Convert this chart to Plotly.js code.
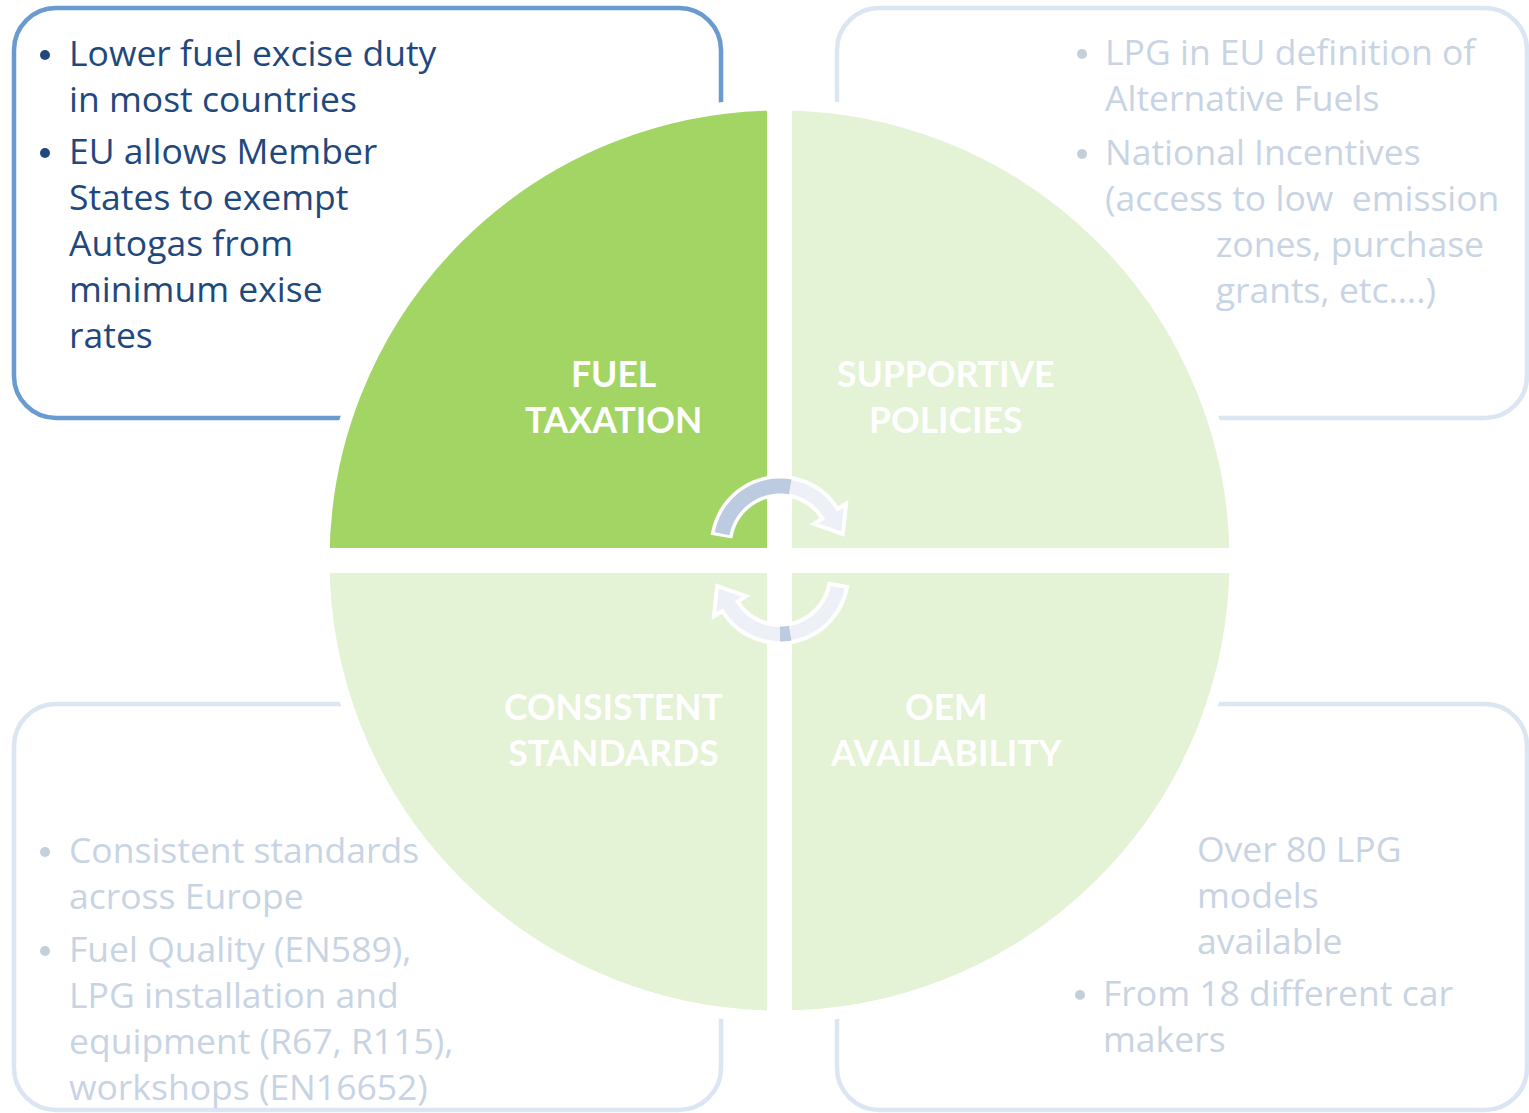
<!DOCTYPE html>
<html>
<head>
<meta charset="utf-8">
<script src="https://cdn.plot.ly/plotly-3.0.1.min.js"></script>
<style>html,body{margin:0;padding:0;background:#fff;}#chart{width:1529px;height:1113px;}</style>
</head>
<body>
<div id="chart"></div>
<script>
// ---------------- DATA ----------------
const quadrantNames = ['SUPPORTIVE<br>POLICIES', 'OEM<br>AVAILABILITY', 'CONSISTENT<br>STANDARDS', 'FUEL<br>TAXATION'];
const quadrantValues = [1, 1, 1, 1];

const NB = '\u00a0'.repeat(12);
const fuelTaxationPoints = [
  ['Lower fuel excise duty', 'in most countries'],
  ['EU allows Member', 'States to exempt', 'Autogas from', 'minimum exise', 'rates']
];
const supportivePoints = [
  ['LPG in EU definition of', 'Alternative Fuels'],
  ['National Incentives', '(access to low\u00a0 emission', NB + 'zones, purchase', NB + 'grants, etc\u2026.)']
];
const standardsPoints = [
  ['Consistent standards', 'across Europe'],
  ['Fuel Quality (EN589),', 'LPG installation and', 'equipment (R67, R115),', 'workshops (EN16652)']
];
const oemPoints = [
  ['Over 80 LPG', 'models', 'available'],
  ['From 18 different car', 'makers']
];

// ---------------- STYLE / LAYOUT ----------------
const W = 1529, H = 1113;
const FONT = '"Open Sans", Lato, sans-serif';
const LABEL_FONT = 'Lato, "Open Sans", sans-serif';
const TEXT_SIZE = 35.5, LINE = 1.3 * TEXT_SIZE;
const darkGreen = '#a2d563', lightGreen = '#e4f2d5';
const quadrantColors = [lightGreen, lightGreen, lightGreen, darkGreen];
const activeText = '#1f497d', fadedText = '#c8d4e3', fadedBullet = '#c4cfdc';

// per box: bullet x, text x per paragraph, first-line y per paragraph, bullet shown per paragraph
const boxes = [
  {points: fuelTaxationPoints, color: activeText, bulletColor: activeText, bx: 45, xs: [69, 69], ys: [55, 153], bullet: [true, true]},
  {points: supportivePoints, color: fadedText, bulletColor: fadedBullet, bx: 1082, xs: [1105, 1105], ys: [54, 154], bullet: [true, true]},
  {points: standardsPoints, color: fadedText, bulletColor: fadedBullet, bx: 45, xs: [69, 69], ys: [852, 951], bullet: [true, true]},
  {points: oemPoints, color: fadedText, bulletColor: fadedBullet, bx: 1080, xs: [1197, 1103], ys: [851, 995], bullet: [false, true]}
];

// centre of each two-line label
const labelPos = [[946, 396], [946, 729], [613, 729], [613, 396]];

const traces = [];
boxes.forEach(b => {
  const tx = [], ty = [], tt = [], bx = [], by = [];
  b.points.forEach((lines, i) => {
    tx.push(b.xs[i]);
    ty.push(b.ys[i] + (lines.length - 1) * LINE / 2 + 2);
    tt.push(lines.join('<br>'));
    if (b.bullet[i]) { bx.push(b.bx); by.push(b.ys[i]); }
  });
  traces.push({
    type: 'scatter', mode: 'text', x: tx, y: ty, text: tt,
    textposition: 'middle right', textfont: {family: FONT, size: TEXT_SIZE, color: b.color},
    hoverinfo: 'skip', cliponaxis: false, showlegend: false
  });
  traces.push({
    type: 'scatter', mode: 'markers', x: bx, y: by,
    marker: {size: 10, color: b.bulletColor, line: {width: 0}},
    hoverinfo: 'skip', showlegend: false
  });
});

// pie (quadrants)
const cx = 779.5, cy = 560.5, R = 450, pad = 12, gap = 25;
const Rd = R + pad / 2;
traces.push({
  type: 'pie', values: quadrantValues, labels: quadrantNames, sort: false,
  direction: 'clockwise', rotation: 0, textinfo: 'none', hoverinfo: 'skip',
  marker: {colors: quadrantColors, line: {color: '#ffffff', width: pad}},
  domain: {x: [(cx - Rd) / W, (cx + Rd) / W], y: [(H - cy - Rd) / H, (H - cy + Rd) / H]},
  showlegend: false
});

// shapes
function roundRect(x0, y0, x1, y1, r) {
  const k = 0.5523 * r;
  return `M${x0 + r},${y0} L${x1 - r},${y0} C${x1 - r + k},${y0} ${x1},${y0 + r - k} ${x1},${y0 + r} ` +
         `L${x1},${y1 - r} C${x1},${y1 - r + k} ${x1 - r + k},${y1} ${x1 - r},${y1} ` +
         `L${x0 + r},${y1} C${x0 + r - k},${y1} ${x0},${y1 - r + k} ${x0},${y1 - r} ` +
         `L${x0},${y0 + r} C${x0},${y0 + r - k} ${x0 + r - k},${y0} ${x0 + r},${y0} Z`;
}
const rad = d => d * Math.PI / 180;
const pt = (ax, ay, r, a) => [ax + r * Math.cos(rad(a)), ay - r * Math.sin(rad(a))];
function arcPts(ax, ay, r, a0, a1, n) {
  const out = [];
  for (let i = 0; i <= n; i++) out.push(pt(ax, ay, r, a0 + (a1 - a0) * i / n));
  return out;
}
function arrowPath(ax, ay, rIn, rOut, a0, a1, ext, len) {
  const outer = arcPts(ax, ay, rOut, a0, a1, 40);
  const inner = arcPts(ax, ay, rIn, a1, a0, 40);
  const rm = (rIn + rOut) / 2;
  const m = pt(ax, ay, rm, a1);
  const t = [Math.sin(rad(a1)), Math.cos(rad(a1))];
  const tip = [m[0] + t[0] * len, m[1] + t[1] * len];
  const hOut = pt(ax, ay, rOut + ext, a1), hIn = pt(ax, ay, rIn - ext, a1);
  const pts = outer.concat([hOut, tip, hIn]).concat(inner);
  return 'M' + pts.map(p => p[0].toFixed(1) + ',' + p[1].toFixed(1)).join(' L') + ' Z';
}
function bandPath(ax, ay, rIn, rOut, a0, a1) {
  const pts = arcPts(ax, ay, rOut, a0, a1, 20).concat(arcPts(ax, ay, rIn, a1, a0, 20));
  return 'M' + pts.map(p => p[0].toFixed(1) + ',' + p[1].toFixed(1)).join(' L') + ' Z';
}

const boxLine = 4.5;
const shapes = [
  {type: 'path', layer: 'below', path: roundRect(14, 8, 721, 418, 42), line: {color: '#6a9bd0', width: boxLine}, fillcolor: 'rgba(0,0,0,0)'},
  {type: 'path', layer: 'below', path: roundRect(837, 8, 1527, 418, 42), line: {color: '#dce6f2', width: boxLine}, fillcolor: 'rgba(0,0,0,0)'},
  {type: 'path', layer: 'below', path: roundRect(14, 704, 721, 1110, 42), line: {color: '#dce6f2', width: boxLine}, fillcolor: 'rgba(0,0,0,0)'},
  {type: 'path', layer: 'below', path: roundRect(837, 704, 1527, 1110, 42), line: {color: '#dce6f2', width: boxLine}, fillcolor: 'rgba(0,0,0,0)'},
  // white cross separating the quadrants
  {type: 'rect', layer: 'above', x0: cx - gap / 2, x1: cx + gap / 2, y0: cy - R - 2, y1: cy + R + 2, fillcolor: '#ffffff', line: {width: 0}},
  {type: 'rect', layer: 'above', x0: cx - R - 2, x1: cx + R + 2, y0: cy - gap / 2, y1: cy + gap / 2, fillcolor: '#ffffff', line: {width: 0}},
  // upper arrow
  {type: 'path', layer: 'above', path: arrowPath(780, 545, 50, 68, 170, 32, 10, 24), fillcolor: '#edf0f7', line: {color: '#ffffff', width: 4}},
  {type: 'path', layer: 'above', path: bandPath(780, 545, 51.5, 66.5, 169, 80), fillcolor: '#bccbe0', line: {width: 0}},
  // lower arrow
  {type: 'path', layer: 'above', path: arrowPath(780, 575, 50, 68, -10, -148, 10, 24), fillcolor: '#edf0f7', line: {color: '#ffffff', width: 4}},
  {type: 'path', layer: 'above', path: bandPath(780, 575, 51.5, 66.5, -80, -90), fillcolor: '#bccbe0', line: {width: 0}}
];

const annotations = quadrantNames.map((t, i) => ({
  x: labelPos[i][0], y: labelPos[i][1], xref: 'x', yref: 'y', text: '<b>' + t + '</b>',
  showarrow: false, xanchor: 'center', yanchor: 'middle', align: 'center',
  font: {family: LABEL_FONT, size: 35.5, color: '#ffffff'}
}));

const layout = {
  width: W, height: H, margin: {l: 0, r: 0, t: 0, b: 0},
  paper_bgcolor: '#ffffff', plot_bgcolor: 'rgba(0,0,0,0)',
  xaxis: {range: [0, W], visible: false, fixedrange: true},
  yaxis: {range: [H, 0], visible: false, fixedrange: true},
  showlegend: false, shapes: shapes, annotations: annotations
};

Plotly.newPlot('chart', traces, layout, {staticPlot: true, displayModeBar: false});
</script>
</body>
</html>
